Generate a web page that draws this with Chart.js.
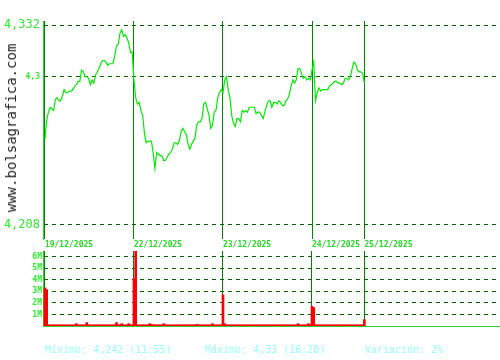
<!DOCTYPE html>
<html><head><meta charset="utf-8">
<script src="https://cdn.jsdelivr.net/npm/chart.js@4.4.0/dist/chart.umd.min.js"></script>
<style>
html,body{margin:0;padding:0;background:#fff;width:500px;height:360px;overflow:hidden;position:relative}
canvas{position:absolute;left:0}
#price{top:0;width:500px;height:252px}
#vol{top:245px;width:500px;height:90px}
.wm{position:absolute;left:11px;top:128px;transform:translate(-50%,-50%) rotate(-90deg);font:14px 'DejaVu Sans Mono',monospace;color:#222;white-space:nowrap}
.ft{position:absolute;top:344px;font:10px 'DejaVu Sans Mono',monospace;color:#99ffff;white-space:nowrap;line-height:12px}
</style></head><body>
<canvas id="price" width="500" height="252"></canvas>
<canvas id="vol" width="500" height="90"></canvas>
<div class="wm">www.bolsagrafica.com</div>
<div class="ft" style="left:45px">Mínimo: 4,242 (11:55)</div>
<div class="ft" style="left:205px">Máximo: 4,33 (16:20)</div>
<div class="ft" style="left:365px">Variación: 2%</div>
<script>
const dayLabels = ['19/12/2025','22/12/2025','23/12/2025','24/12/2025','25/12/2025'];
const dayStartMinutes = [0, 510, 1020, 1530, 1830];
const slotMinutes = 10;

const priceDay1 = [4.261,4.273,4.278,4.281,4.280,4.279,4.286,4.287,4.285,4.285,4.288,4.292,4.290,4.290,4.291,4.291,4.292,4.294,4.295,4.297,4.297,4.304,4.303,4.300,4.300,4.299,4.295,4.298,4.296,4.301,4.303,4.305,4.308,4.310,4.310,4.309,4.307,4.308,4.308,4.308,4.313,4.319,4.320,4.327,4.329,4.325,4.326,4.324,4.321,4.315,4.315];
const priceDay2 = [4.298,4.287,4.283,4.284,4.279,4.276,4.265,4.259,4.260,4.260,4.260,4.253,4.243,4.253,4.252,4.251,4.251,4.248,4.248,4.250,4.252,4.253,4.255,4.259,4.259,4.258,4.260,4.266,4.268,4.266,4.264,4.258,4.255,4.258,4.260,4.262,4.270,4.272,4.272,4.274,4.283,4.284,4.280,4.276,4.268,4.270,4.278,4.279,4.287,4.290,4.292];
const priceDay3 = [4.290,4.298,4.300,4.292,4.287,4.276,4.271,4.269,4.274,4.274,4.272,4.279,4.278,4.279,4.278,4.281,4.281,4.281,4.281,4.277,4.278,4.278,4.276,4.274,4.278,4.282,4.285,4.285,4.281,4.284,4.284,4.283,4.285,4.284,4.282,4.282,4.285,4.286,4.289,4.294,4.298,4.296,4.298,4.305,4.305,4.302,4.299,4.300,4.298,4.299,4.298];
const priceDay4 = [4.304,4.309,4.285,4.290,4.293,4.291,4.292,4.292,4.292,4.292,4.294,4.295,4.296,4.297,4.297,4.296,4.296,4.295,4.296,4.299,4.299,4.298,4.300,4.305,4.309,4.308,4.304,4.303,4.303,4.302,4.296];

const volumeDay1 = [3.3,3.15,0.1,0.1,0.1,0.1,0.1,0.1,0.1,0.1,
  0.1,0.1,0.1,0.1,0.1,0.1,0.1,0.1,0.2,0.1,
  0.1,0.1,0.1,0.1,0.3,0.1,0.1,0.1,0.1,0.1,
  0.1,0.1,0.1,0.1,0.1,0.1,0.1,0.1,0.1,0.1,
  0.1,0.3,0.1,0.1,0.2,0.1,0.1,0.1,0.2,0.1,
  0.1];
const volumeDay2 = [4.1,6.5,0.1,0.1,0.1,0.1,0.1,0.1,0.1,0.2,
  0.15,0.1,0.1,0.1,0.1,0.1,0.1,0.2,0.1,0.1,
  0.1,0.1,0.1,0.1,0.1,0.1,0.1,0.1,0.1,0.1,
  0.1,0.1,0.1,0.1,0.1,0.1,0.15,0.1,0.1,0.1,
  0.1,0.1,0.1,0.1,0.1,0.2,0.1,0.1,0.1,0.1,
  0.1];
const volumeDay3 = [2.7,0.2,0.1,0.1,0.1,0.1,0.1,0.1,0.1,0.1,
  0.1,0.1,0.1,0.1,0.1,0.1,0.1,0.1,0.1,0.1,
  0.1,0.1,0.1,0.1,0.1,0.1,0.1,0.1,0.1,0.1,
  0.1,0.1,0.1,0.1,0.1,0.1,0.1,0.1,0.1,0.1,
  0.1,0.1,0.1,0.2,0.1,0.1,0.1,0.1,0.1,0.2,
  0.1];
const volumeDay4 = [1.7,1.6,0.1,0.1,0.1,0.1,0.1,0.1,0.1,0.1,
  0.1,0.1,0.1,0.1,0.1,0.1,0.1,0.1,0.1,0.1,
  0.1,0.1,0.1,0.1,0.1,0.1,0.1,0.1,0.1,0.1,
  0.55];

const priceTicks = [4.208, 4.3, 4.332];
const priceTickLabels = ['4,208', '4,3', '4,332'];
const volumeTicks = [1, 2, 3, 4, 5, 6];
const volumeTickLabels = ['1M', '2M', '3M', '4M', '5M', '6M'];

const MONO = "'DejaVu Sans Mono', monospace";
const priceDays = [priceDay1, priceDay2, priceDay3, priceDay4];
const volumeDays = [volumeDay1, volumeDay2, volumeDay3, volumeDay4];
function toPoints(days) {
  const pts = [];
  days.forEach((arr, d) => arr.forEach((v, i) => pts.push({x: dayStartMinutes[d] + i * slotMinutes, y: v})));
  return pts;
}
const dayTicks = s => { s.ticks = dayStartMinutes.map(v => ({value: v})); };

new Chart(document.getElementById('price'), {
  type: 'line',
  data: { datasets: [{ data: toPoints(priceDays), borderColor: '#00ee00', borderWidth: 1.2, pointRadius: 0, tension: 0, fill: false }] },
  options: {
    responsive: false, animation: false, devicePixelRatio: 1,
    layout: { padding: { left: 0, right: 4, top: 21, bottom: 0 } },
    plugins: { legend: { display: false }, tooltip: { enabled: false } },
    scales: {
      x: {
        type: 'linear', min: -11, max: 2584,
        afterBuildTicks: dayTicks,
        afterFit: s => { s.height = 13; },
        ticks: { autoSkip: false, maxRotation: 0, align: 'start', padding: 1, color: '#22dd22',
          font: { family: MONO, size: 8, weight: 'bold' },
          callback: (v, i) => dayLabels[i] },
        grid: { color: '#008800', lineWidth: 1, drawTicks: false },
        border: { display: false }
      },
      y: {
        min: 4.1993, max: 4.3345,
        afterBuildTicks: s => { s.ticks = priceTicks.map(v => ({value: v})); },
        afterFit: s => { s.width = 43; },
        ticks: { padding: 3, color: '#2fef2f',
          font: ctx => (ctx.tick && ctx.tick.value === 4.3) ? { family: MONO, size: 8, weight: 'bold' } : { family: MONO, size: 12 },
          callback: (v, i) => priceTickLabels[i] },
        grid: { color: '#006600', lineWidth: 1, drawTicks: false },
        border: { display: true, color: '#33cc33', width: 1, dash: [4, 4] }
      }
    }
  }
});

new Chart(document.getElementById('vol'), {
  type: 'bar',
  data: { datasets: [{ data: toPoints(volumeDays), backgroundColor: '#ff0000', borderWidth: 0, barThickness: 2 }] },
  options: {
    responsive: false, animation: false, devicePixelRatio: 1,
    layout: { padding: { left: 0, right: 0, top: 6, bottom: 0 } },
    plugins: { legend: { display: false }, tooltip: { enabled: false } },
    scales: {
      x: {
        type: 'linear', min: -11, max: 2607, offset: false,
        afterBuildTicks: dayTicks,
        afterFit: s => { s.height = 9; },
        ticks: { display: false },
        grid: { color: '#008800', lineWidth: 1, drawTicks: false, offset: false },
        border: { display: true, color: '#33cc33', width: 1 }
      },
      y: {
        min: 0, max: 6.5,
        afterBuildTicks: s => { s.ticks = volumeTicks.map(v => ({value: v})); },
        afterFit: s => { s.width = 43; },
        ticks: { padding: 1, color: '#2fef2f', font: { family: MONO, size: 8, weight: 'bold' },
          callback: (v, i) => volumeTickLabels[i] },
        grid: { color: '#006600', lineWidth: 1, drawTicks: false },
        border: { display: true, color: '#33cc33', width: 1, dash: [4, 4] }
      }
    }
  }
});
</script>
</body></html>
